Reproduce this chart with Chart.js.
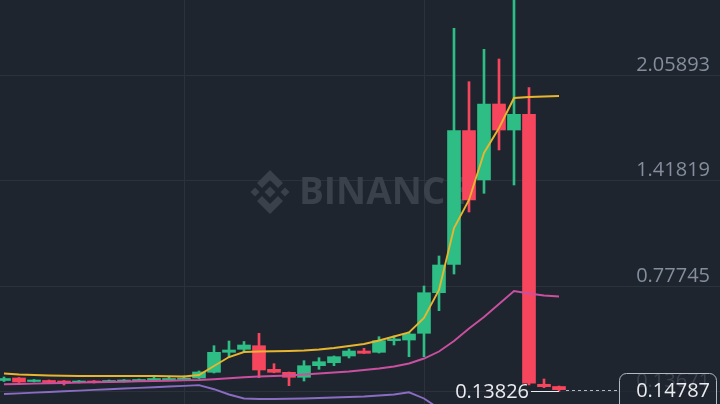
<!DOCTYPE html>
<html><head><meta charset="utf-8">
<script src="https://cdn.jsdelivr.net/npm/chart.js@4.4.1/dist/chart.umd.min.js"></script>
<style>html,body{margin:0;padding:0;background:#1f252f;overflow:hidden}</style>
</head><body>
<canvas id="c" width="720" height="404"></canvas>
<script>
// ---- data ----
const opens  = [0.2036,0.2188,0.1975,0.2036,0.2005,0.1914,0.2005,0.1944,0.1975,0.2005,0.2036,0.2066,0.2096,0.2188,0.2534,0.3749,0.3932,0.4150,0.2716,0.2534,0.2230,0.2935,0.3117,0.3525,0.3828,0.3749,0.4454,0.4497,0.4904,0.7371,0.9097,1.7217,1.4220,1.8839,1.7259,1.8213,0.1805,0.1671];
const highs  = [0.2248,0.2218,0.2096,0.2066,0.2036,0.2036,0.2036,0.2066,0.2096,0.2127,0.2309,0.2248,0.2309,0.2613,0.4150,0.4436,0.4406,0.4904,0.3057,0.2552,0.3239,0.3421,0.3525,0.3950,0.3992,0.4697,0.4740,0.4983,0.7779,0.9602,2.3440,2.0194,2.2163,2.1574,2.6000,1.9830,0.2127,0.1701];
const lows   = [0.1975,0.1914,0.1944,0.1884,0.1762,0.1884,0.1884,0.1914,0.1944,0.1975,0.2005,0.2036,0.2066,0.2157,0.2491,0.3464,0.3768,0.2206,0.2504,0.1720,0.2005,0.2716,0.2935,0.3403,0.3677,0.3707,0.4193,0.3482,0.3482,0.6278,0.8508,1.2276,1.3412,1.6044,1.3917,0.1762,0.1598,0.13826];
const closes = [0.2157,0.1944,0.2066,0.1914,0.1884,0.2005,0.1914,0.2005,0.2036,0.2066,0.2157,0.2127,0.2157,0.2552,0.3749,0.3889,0.4193,0.2674,0.2534,0.2230,0.2935,0.3178,0.3482,0.3828,0.3689,0.4454,0.4558,0.4862,0.7371,0.9055,1.7217,1.3005,1.8839,1.7259,1.8213,0.1866,0.1659,0.14787];
const ma7  = [0.2461,0.2400,0.2370,0.2339,0.2327,0.2309,0.2309,0.2309,0.2309,0.2309,0.2309,0.2291,0.2279,0.2370,0.2917,0.3464,0.3768,0.3798,0.3810,0.3828,0.3859,0.3919,0.4010,0.4132,0.4254,0.4467,0.4710,0.4953,0.5834,0.7536,1.1303,1.3005,1.5861,1.7381,1.9204,1.9264,1.9295,1.9325];
const ma25 = [0.1805,0.1823,0.1847,0.1866,0.1884,0.1908,0.1926,0.1944,0.1963,0.1987,0.2005,0.2023,0.2048,0.2066,0.2108,0.2169,0.2230,0.2279,0.2309,0.2339,0.2400,0.2461,0.2522,0.2583,0.2674,0.2765,0.2886,0.3069,0.3373,0.3798,0.4436,0.5196,0.5895,0.6685,0.7475,0.7323,0.7201,0.7141];
const ma99 = [0.1215,0.1256,0.1298,0.1339,0.1380,0.1421,0.1463,0.1504,0.1545,0.1587,0.1628,0.1669,0.1710,0.1752,0.1506,0.1184,0.0942,0.0911,0.0911,0.0924,0.0942,0.0972,0.1002,0.1033,0.1063,0.1124,0.1184,0.1318,0.0942,0.0334,-0.0365,null,null,null,null,null,null,null];
const yTickValues = [0.13671, 0.77745, 1.41819, 2.05893];
const xGridAt = [12, 28];
const lastPrice = 0.14787;
const lowMark = 0.13826;

const UP = '#2ebd85', DOWN = '#f6465d';
const idx = closes.map((_, i) => i);
const colors = idx.map(i => closes[i] >= opens[i] ? UP : DOWN);

const watermark = {
  id: 'wm',
  beforeDatasetsDraw(chart) {
    const ctx = chart.ctx; ctx.save();
    ctx.fillStyle = '#3b414b';
    const cx = 270, cy = 192;
    const dia = (x, y, r) => { ctx.beginPath(); ctx.moveTo(x, y - r); ctx.lineTo(x + r, y); ctx.lineTo(x, y + r); ctx.lineTo(x - r, y); ctx.closePath(); ctx.fill(); };
    dia(cx, cy, 5.5); dia(cx - 15, cy, 4.5); dia(cx + 15, cy, 4.5);
    for (const s of [-1, 1]) {
      ctx.beginPath();
      ctx.moveTo(cx, cy + s * 22); ctx.lineTo(cx + 13, cy + s * 9); ctx.lineTo(cx + 8, cy + s * 4);
      ctx.lineTo(cx, cy + s * 12); ctx.lineTo(cx - 8, cy + s * 4); ctx.lineTo(cx - 13, cy + s * 9);
      ctx.closePath(); ctx.fill();
    }
    ctx.font = 'bold 37px "Open Sans"'; ctx.textBaseline = 'middle'; ctx.textAlign = 'left';
    ctx.fillText('BINANCE', 299, 193);
    ctx.restore();
  }
};

const priceMarks = {
  id: 'pm',
  afterDraw(chart) {
    const {ctx, scales: {x, y}, chartArea} = chart;
    ctx.save();
    // right-side price labels (drawn inside the plot, above their grid lines)
    ctx.font = '20px "Open Sans"'; ctx.fillStyle = '#848e9c';
    ctx.textAlign = 'right'; ctx.textBaseline = 'middle';
    for (const t of y.ticks) {
      ctx.fillText(t.value.toFixed(5), chartArea.right - 10, y.getPixelForValue(t.value) - 10);
    }
    const py = Math.round(y.getPixelForValue(lastPrice)) + 0.5;
    const x0 = x.getPixelForValue(closes.length - 1) + 7;
    const boxL = 619.5, boxR = chartArea.right - 3.5, boxT = py - 17;
    ctx.strokeStyle = '#b3b9c1'; ctx.lineWidth = 1; ctx.setLineDash([3, 3]);
    ctx.beginPath(); ctx.moveTo(x0, py); ctx.lineTo(boxL, py); ctx.stroke();
    ctx.setLineDash([]);
    ctx.beginPath(); ctx.roundRect(boxL, boxT, boxR - boxL, 40, 7);
    ctx.fillStyle = 'rgba(31,37,47,0.72)'; ctx.fill();
    ctx.strokeStyle = '#b3b9c1'; ctx.stroke();
    ctx.fillStyle = '#eaecef';
    ctx.fillText(lastPrice.toFixed(5), chartArea.right - 10, py + 1);
    // low marker
    const li = lows.indexOf(lowMark);
    const ly = Math.round(y.getPixelForValue(lowMark)) + 0.5;
    const lx = x.getPixelForValue(li);
    ctx.strokeStyle = '#eaecef';
    ctx.beginPath(); ctx.moveTo(lx, ly); ctx.lineTo(lx - 28, ly); ctx.stroke();
    ctx.fillText(lowMark.toFixed(5), lx - 30, ly + 1);
    ctx.restore();
  }
};

new Chart(document.getElementById('c'), {
  type: 'bar',
  data: {
    datasets: [
      { type: 'line', label: 'MA7', data: idx.map(i => ({x: i, y: ma7[i]})), borderColor: '#e8b52e', borderWidth: 1.9, pointRadius: 0, tension: 0, order: 0 },
      { type: 'line', label: 'MA25', data: idx.map(i => ({x: i, y: ma25[i]})), borderColor: '#c9509f', borderWidth: 1.9, pointRadius: 0, tension: 0, order: 0 },
      { type: 'line', label: 'MA99', data: idx.map(i => ({x: i, y: ma99[i]})), borderColor: '#8a6cc2', borderWidth: 1.9, pointRadius: 0, tension: 0, order: 0 },
      { label: 'body', data: idx.map(i => ({x: i, y: [opens[i], closes[i]]})), backgroundColor: colors, barThickness: 13, minBarLength: 1.5, grouped: false, order: 1 },
      { label: 'wick', data: idx.map(i => ({x: i, y: [lows[i], highs[i]]})), backgroundColor: colors, barThickness: 2, minBarLength: 1, grouped: false, order: 2 }
    ]
  },
  options: {
    responsive: false, animation: false, devicePixelRatio: 1,
    layout: { padding: 0 },
    plugins: { legend: { display: false }, tooltip: { enabled: false } },
    scales: {
      x: {
        type: 'linear', min: -4 / 15, max: 716 / 15, offset: false,
        afterBuildTicks: s => { s.ticks = xGridAt.map(v => ({value: v})); },
        ticks: { display: false },
        grid: { color: '#2c323c', drawTicks: false, offset: false },
        border: { display: false }
      },
      y: {
        type: 'linear', position: 'right', min: 0.06075, max: 2.51594,
        afterBuildTicks: s => { s.ticks = yTickValues.map(v => ({value: v})); },
        ticks: { display: false },
        grid: { color: '#2c323c', drawTicks: false },
        border: { display: false }
      }
    }
  },
  plugins: [watermark, priceMarks]
});
</script>
</body></html>
